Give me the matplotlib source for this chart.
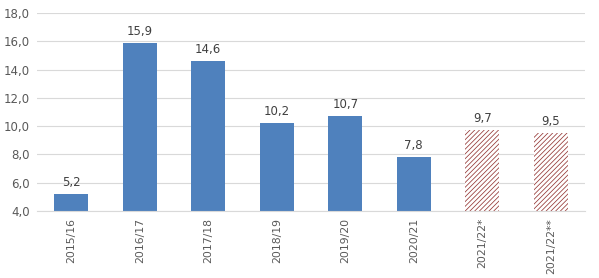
import matplotlib.pyplot as plt
import numpy as np

seasons = ["2015/16", "2016/17", "2017/18", "2018/19", "2019/20", "2020/21", "2021/22*", "2021/22**"]
values = [5.2, 15.9, 14.6, 10.2, 10.7, 7.8, 9.7, 9.5]
estimate = [False, False, False, False, False, False, True, True]

plt.rcParams['hatch.linewidth'] = 0.55
plt.rcParams['hatch.color'] = '#943634'

fig = plt.figure(figsize=(5.99, 2.78), dpi=100)
ax = fig.add_axes([37/599, 1 - 211/278, 548/599, 198/278])

x = np.arange(len(seasons))
ymin = 4.0
for xi, v, est in zip(x, values, estimate):
    if est:
        ax.bar(xi, v - ymin, bottom=ymin, width=0.5, color='white',
               edgecolor='#943634', linewidth=0, hatch='///////')
    else:
        ax.bar(xi, v - ymin, bottom=ymin, width=0.5, color='#4F81BD')
    ax.text(xi, v + 0.35, f"{v:.1f}".replace('.', ','), ha='center', va='bottom',
            fontsize=8.5, color='#404040')

ax.set_ylim(4, 18)
ax.set_xlim(-0.5, len(seasons) - 0.5)
yt = np.arange(4, 19, 2)
ax.set_yticks(yt)
ax.set_yticklabels([f"{t:.1f}".replace('.', ',') for t in yt], fontsize=8.5, color='#595959')
ax.set_xticks(x)
ax.set_xticklabels(seasons, rotation=90, fontsize=7.8, color='#595959')
ax.tick_params(axis='y', length=0, pad=5)
ax.tick_params(axis='x', length=0, pad=5)
ax.yaxis.grid(True, color='#D9D9D9', linewidth=0.8)
ax.set_axisbelow(True)
for s in ['top', 'right', 'left']:
    ax.spines[s].set_visible(False)
ax.spines['bottom'].set_color('#D9D9D9')

plt.savefig("out.png", dpi=100)
